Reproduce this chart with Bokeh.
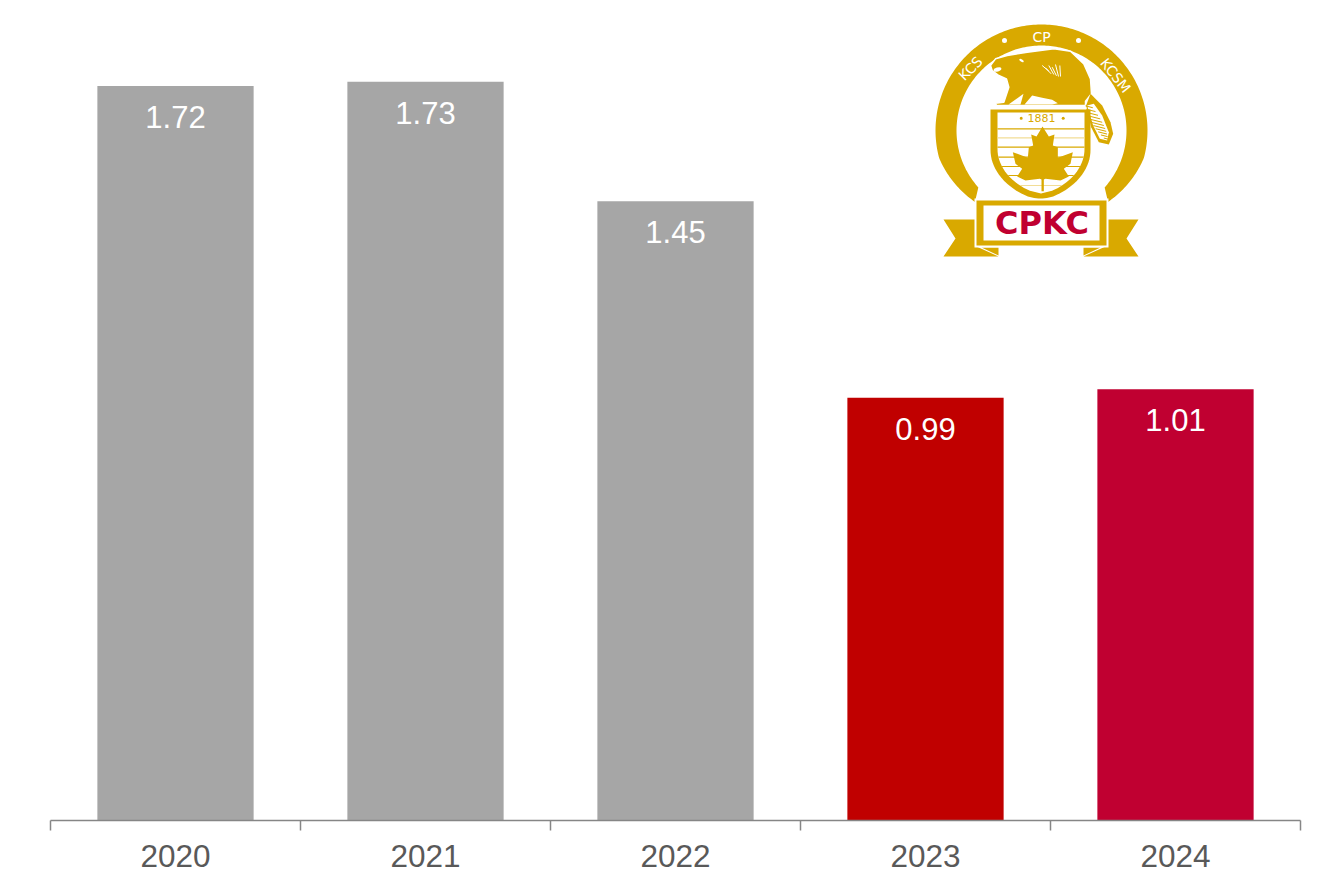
import numpy as np
from bokeh.plotting import figure
from bokeh.models import Range1d, FixedTicker, ColumnDataSource
from bokeh.core.properties import value
from bokeh.embed import file_html
from bokeh.resources import INLINE

years = ["2020", "2021", "2022", "2023", "2024"]
values = [1.72, 1.73, 1.45, 0.99, 1.01]
colors = ["#A6A6A6", "#A6A6A6", "#A6A6A6", "#C00000", "#C00031"]
labels = ["1.72", "1.73", "1.45", "0.99", "1.01"]

GOLD = "#D9A900"
PALE = "#F2DD96"
CRIMSON = "#C00031"
FONT = value("Liberation Sans")

p = figure(width=1323, height=872, frame_height=820, output_backend="svg", toolbar_location=None,
           x_range=Range1d(0, 5), y_range=Range1d(0, 820 / 427),
           min_border_left=50, min_border_right=23, min_border_top=0, min_border_bottom=52,
           outline_line_color=None, background_fill_color="white", border_fill_color="white")
p.grid.visible = False
p.yaxis.visible = False

pos = [i + 0.5 for i in range(len(years))]
src = ColumnDataSource(dict(x=pos, top=values, color=colors, label=labels))
p.vbar(x="x", top="top", bottom=0, width=0.625, fill_color="color", line_color=None, source=src)
p.text(x="x", y="top", text="label", source=src, y_offset=31, text_align="center",
       text_baseline="middle", text_color="white", text_font=FONT, text_font_size="31px")

ax = p.xaxis[0]
ax.ticker = FixedTicker(ticks=pos, minor_ticks=list(range(len(years) + 1)))
ax.major_label_overrides = {x: y for x, y in zip(pos, years)}
ax.major_tick_out = 0
ax.major_tick_in = 0
ax.minor_tick_out = 10
ax.minor_tick_in = 0
ax.minor_tick_line_color = "#868686"
ax.minor_tick_line_width = 1.5
ax.axis_line_color = "#868686"
ax.axis_line_width = 1.5
ax.major_label_standoff = 14
ax.major_label_text_line_height = 1.0
ax.major_label_text_color = "#595959"
ax.major_label_text_font = "Liberation Sans"
ax.major_label_text_font_size = "31.5px"

# ---- logo, drawn in page pixel coordinates ----
p.extra_x_ranges["logo"] = Range1d(50, 1300)
p.extra_y_ranges["logo"] = Range1d(820, 0)
L = dict(x_range_name="logo", y_range_name="logo")

def poly(pts, color, sx=3, sy=3, ox=920, oy=10):
    a = np.array(pts, dtype=float)
    p.patch(a[:, 0] / sx + ox, a[:, 1] / sy + oy, fill_color=color, line_color=None, **L)

def zoom6(pts):
    a = np.array(pts, dtype=float)
    return np.c_[(a[:, 0] / 3 + 980 - 920) * 3, (a[:, 1] / 3 + 100 - 10) * 3]

# ring: angle measured from the top; outer edge pulls in towards the ribbon
cx, cy = 1041.0, 130.0
th = np.radians(np.linspace(-137, 137, 220))
ro = np.interp(np.abs(np.degrees(th)), [0, 105, 137], [106, 106, 97.6])
ox = cx + ro * np.sin(th)
oy = cy - ro * np.cos(th)
thi = np.radians(np.linspace(132, -132, 200))
ix = cx + 85 * np.sin(thi)
iy = cy - 85 * np.cos(thi)
p.patch(np.r_[ox, ix], np.r_[oy, iy], fill_color=GOLD, line_color=None, **L)

# beaver
beaver = [(210, 165), (225, 145), (260, 135), (320, 125), (400, 115), (450, 122), (490, 160),
          (510, 205), (513, 250), (495, 272), (495, 285), (228, 285), (225, 278), (250, 275),
          (265, 230), (258, 205), (235, 195), (215, 180)]
a = np.array(beaver, float)
p.patch(a[:, 0] / 3 + 920, a[:, 1] / 3 + 10, fill_color=GOLD, line_color="white", line_width=1.5, **L)
poly([(264, 282), (309, 250), (300, 282)], "white")
poly([(312, 282), (335, 255), (365, 262), (395, 268), (412, 278), (395, 282)], "white")
p.ellipse(x=[920 + 231 / 3], y=[10 + 177 / 3], width=8, height=4, angle=0.3, fill_color="white", line_color=None, **L)
p.ellipse(x=[920 + 303 / 3], y=[10 + 150 / 3], width=5, height=2.5, angle=-0.5, fill_color="white", line_color=None, **L)
fx0 = np.array([365, 375, 385, 395, 405, 418]) / 3 + 920
fy0 = np.array([165, 172, 165, 170, 162, 165]) / 3 + 10
fx1 = np.array([385, 392, 400, 408, 414, 420]) / 3 + 920
fy1 = np.array([182, 190, 192, 196, 198, 198]) / 3 + 10
p.segment(fx0, fy0, fx1, fy1, line_color="white", line_width=1, **L)

# tail
tail = [(497, 285), (510, 250), (545, 285), (570, 335), (578, 370), (565, 402), (535, 395), (512, 350)]
poly(tail, GOLD)
tail_in = [(500, 285), (520, 280), (545, 315), (565, 365), (560, 390), (538, 385), (518, 345)]
poly(tail_in, "white")
s = np.linspace(0.02, 0.97, 11)
ax0, ay0, ax1, ay1 = 505, 283, 558, 385
mx = ax0 + (ax1 - ax0) * s
my = ay0 + (ay1 - ay0) * s
half = 18 * np.sin(np.pi * (0.15 + 0.8 * s)) + 3
p.segment((mx - half * 0.9) / 3 + 920, (my + half * 0.1) / 3 + 10, (mx + half * 0.9) / 3 + 920, (my + half * 0.55) / 3 + 10,
          line_color=GOLD, line_width=1, **L)

# shield
def shield(top, lx, rx, by):
    tt = np.linspace(0, 1, 30)
    ly = top + (by - top) * tt
    half = (rx - lx) / 2
    mid = (rx + lx) / 2
    w = half * np.where(tt < 0.45, 1.0, np.sqrt(np.clip(1 - ((tt - 0.45) / 0.55) ** 2, 0, 1)) ** 1.3)
    return mid, ly, w

mid, ly, w = shield(109, 990, 1090, 199)
p.patch(np.r_[mid - w, (mid + w)[::-1]], np.r_[ly, ly[::-1]], fill_color=GOLD, line_color=None, **L)
mid2, ly2, w2 = shield(112, 997, 1084, 193)
p.patch(np.r_[mid2 - w2, (mid2 + w2)[::-1]], np.r_[ly2, ly2[::-1]], fill_color="white", line_color=None, **L)

stripe_y = [128.3, 137.3, 146.7, 156.7, 166, 175, 185]
stripe_c = [GOLD, PALE, GOLD, GOLD, GOLD, GOLD, PALE]
hw = np.interp(stripe_y, ly2, w2)
p.segment(mid2 - hw, stripe_y, mid2 + hw, stripe_y, line_color=stripe_c, line_width=1.2, **L)

leaf = [(186, 78), (205, 108), (222, 102), (217, 135), (232, 140), (232, 172), (277, 155), (270, 190),
        (250, 205), (265, 228), (240, 240), (195, 235), (190, 237), (190, 272), (183, 272), (183, 237),
        (178, 235), (135, 240), (110, 228), (125, 205), (105, 190), (97, 155), (142, 172), (145, 140),
        (158, 135), (152, 102), (168, 108)]
poly(zoom6(leaf), GOLD)

# ribbon
for sgn in (1, -1):
    def m(xs):
        return 1040.5 + sgn * (np.array(xs, float) - 1040.5)
    p.patch(m([943, 976, 976, 998, 943, 955]), [219, 219, 246, 256, 256, 238], fill_color=GOLD, line_color=None, **L)
    p.patch(m([981, 998, 998]), [247, 247, 255], fill_color=GOLD, line_color=None, **L)
p.quad(left=[974], right=[1108], top=[198], bottom=[247], fill_color="white", line_color=None, **L)
p.quad(left=[976], right=[1106], top=[200], bottom=[245], fill_color=GOLD, line_color=None, **L)
p.quad(left=[983], right=[1099], top=[205], bottom=[240], fill_color="white", line_color=None, **L)

tk = dict(text_align="center", text_baseline="middle", **L)
p.text(x=[1041.5], y=[222], text=["CPKC"], text_color=CRIMSON, text_font=value("DejaVu Sans"),
       text_font_style="bold", text_font_size="32px", **tk)
p.text(x=[1041], y=[36], text=["CP"], text_color="white", text_font=value("DejaVu Sans"), text_font_size="14px", **tk)
p.text(x=[970], y=[68], text=["KCS"], angle=[np.pi / 4], text_color="white", text_font=value("DejaVu Sans"), text_font_size="14px", **tk)
p.text(x=[1115], y=[75], text=["KCSM"], angle=[-0.9], text_color="white", text_font=value("DejaVu Sans"), text_font_size="14px", **tk)
p.text(x=[1041], y=[117.5], text=["1881"], text_color=GOLD, text_font=value("DejaVu Sans"), text_font_size="11px", **tk)
p.scatter(x=[1004, 1078], y=[40, 40], size=5, fill_color="white", line_color=None, **L)
p.scatter(x=[1020.7, 1062.7], y=[117.7, 117.7], size=3, fill_color=GOLD, line_color=None, **L)

open("out.html", "w").write(file_html(p, INLINE))
